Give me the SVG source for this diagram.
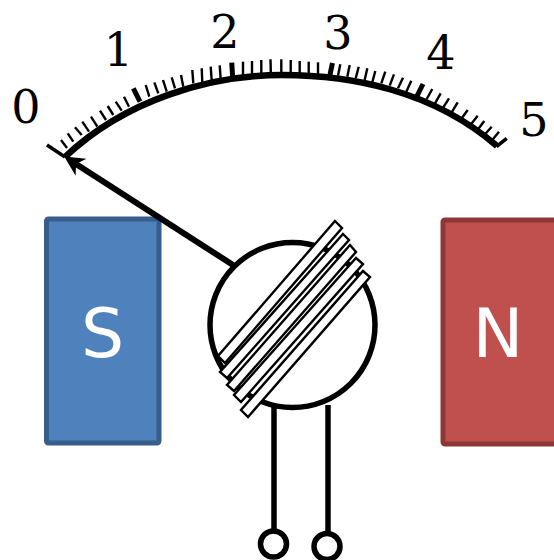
<svg xmlns="http://www.w3.org/2000/svg" width="554" height="560" viewBox="0 0 554 560">
<style>
.dial{font-family:"DejaVu Serif","Liberation Serif",serif;font-size:46px;fill:#000;text-anchor:middle}
.pole{font-family:"DejaVu Sans","Liberation Sans",sans-serif;font-size:68px;fill:#fff;text-anchor:middle}
.ln{fill:none;stroke:#000;stroke-width:5.500}
.tk line{stroke:#000;stroke-width:2.400}
.tk line.mj{stroke-width:5}
.cl{fill:#fff;stroke:#000;stroke-width:2.400}
</style>
<defs>
<marker id="ah" markerUnits="userSpaceOnUse" markerWidth="26" markerHeight="26" refX="7" refY="12" orient="auto"><path d="M21,12 L1,2 L7,12 L1,22Z" fill="#000"/></marker>
</defs>
<g id="scale">
<g id="ticks" class="tk">
<line x1="61" y1="140" x2="67" y2="148"/><line x1="67.700" y1="133.300" x2="73.300" y2="141.700"/><line x1="75" y1="127.300" x2="81.700" y2="135"/><line x1="82.300" y1="121.700" x2="89" y2="131.700"/><line x1="91" y1="116.700" x2="97.300" y2="126.700"/><line x1="100" y1="110.700" x2="106" y2="120"/><line x1="107.700" y1="106" x2="113.300" y2="115"/><line x1="115.700" y1="101.700" x2="121.700" y2="110.700"/><line x1="124" y1="96.700" x2="129" y2="106.700"/><line class="mj" x1="133.300" y1="88.300" x2="140" y2="101.700"/>
<line x1="145.700" y1="85" x2="149.300" y2="96.700"/><line x1="154.300" y1="82.300" x2="158.300" y2="93.300"/><line x1="163" y1="80" x2="166.700" y2="91.700"/><line x1="171.700" y1="77.300" x2="175" y2="88.300"/><line x1="181" y1="75" x2="183.300" y2="86.700"/><line x1="192.300" y1="70" x2="193.300" y2="83.300"/><line x1="201.700" y1="68.300" x2="202.300" y2="82.300"/><line x1="210.700" y1="66.700" x2="211.700" y2="80.700"/><line x1="219.700" y1="65.300" x2="220.700" y2="79.300"/><line class="mj" x1="231.700" y1="62.700" x2="232.700" y2="78.300"/>
<line x1="243" y1="61.700" x2="243" y2="75"/><line x1="252" y1="61" x2="252" y2="74"/><line x1="261.300" y1="60" x2="261.300" y2="73"/><line x1="270.500" y1="59.300" x2="270.800" y2="73"/><line x1="281.300" y1="59.300" x2="281.300" y2="73"/><line x1="290.700" y1="60" x2="290.700" y2="73"/><line x1="299.700" y1="61" x2="299.700" y2="74"/><line x1="308.700" y1="61.700" x2="308.700" y2="75"/><line x1="318" y1="62.300" x2="318" y2="75"/><line class="mj" x1="332.500" y1="63" x2="329.700" y2="76"/>
<line x1="340.300" y1="64.300" x2="338" y2="75.700"/><line x1="349.700" y1="65" x2="347.300" y2="76.700"/><line x1="358.700" y1="66.700" x2="355.700" y2="78.300"/><line x1="367.300" y1="68.300" x2="364.700" y2="80"/><line x1="375.300" y1="71" x2="372.300" y2="82.300"/><line x1="385.300" y1="71.700" x2="381.300" y2="83.300"/><line x1="394" y1="74.300" x2="389.700" y2="85.700"/><line x1="403" y1="77.700" x2="398" y2="88.300"/><line x1="411.300" y1="80.700" x2="406.300" y2="91.700"/><line class="mj" x1="423" y1="84" x2="416.500" y2="97"/>
<line x1="432.300" y1="89" x2="426.700" y2="99"/><line x1="440.700" y1="93.300" x2="435" y2="103.300"/><line x1="449" y1="98.300" x2="443.300" y2="107.300"/><line x1="457.700" y1="102.300" x2="451.700" y2="112.300"/><line x1="467.700" y1="110" x2="461.700" y2="118.300"/><line x1="477.700" y1="115.700" x2="471" y2="124.300"/><line x1="484.300" y1="121" x2="478.300" y2="129"/><line x1="491.700" y1="126.700" x2="485" y2="134.300"/><line x1="499" y1="131.700" x2="492.300" y2="140"/>
</g>
<path class="ln" style="stroke-width:6.500" d="M65,157 C125,100 210,75 282,75 C350,75 432,90 497,146"/>
<line x1="65" y1="157" x2="47" y2="145" stroke="#000" stroke-width="3.500"/>
<line x1="496.500" y1="146.700" x2="506.700" y2="138.300" stroke="#000" stroke-width="3.500"/>
<text class="dial" x="26" y="123">0</text>
<text class="dial" x="118.500" y="66">1</text>
<text class="dial" x="225" y="48">2</text>
<text class="dial" x="338" y="49">3</text>
<text class="dial" x="441" y="69">4</text>
<text class="dial" x="534" y="136">5</text>
</g>
<g id="magnet-s"><rect x="46.500" y="219" width="112.500" height="224" rx="2" fill="#4f81bd" stroke="#385d8a" stroke-width="5"/><text class="pole" x="102.500" y="357">S</text></g>
<g id="magnet-n"><rect x="443" y="220" width="114" height="224" rx="2" fill="#c0504d" stroke="#8c3836" stroke-width="5"/><text class="pole" x="498" y="357">N</text></g>
<g id="connectors">
<line class="ln" style="stroke-width:6" x1="233" y1="265" x2="76" y2="164" marker-end="url(#ah)"/>
<line class="ln" x1="274" y1="405" x2="274" y2="532"/>
<line class="ln" x1="328" y1="405" x2="328" y2="534"/>
</g>
<g id="rotor"><circle class="ln" cx="292.500" cy="325" r="82.500"/></g>
<g id="coil">
<polygon class="cl" points="335,221 342,228 225,363 218,356"/>
<polygon class="cl" points="343,234 349,240 227,378 220,372"/>
<polygon class="cl" points="350,245 356,252 234,391 227,385"/>
<polygon class="cl" points="356,258 363,264 241,402 234,395"/>
<polygon class="cl" points="363,271 370,277 248,417 241,410"/>
</g>
<g id="terminal-1"><circle class="ln" cx="273.500" cy="544" r="13"/></g>
<g id="terminal-2"><circle class="ln" cx="327" cy="546.500" r="13"/></g>
</svg>
